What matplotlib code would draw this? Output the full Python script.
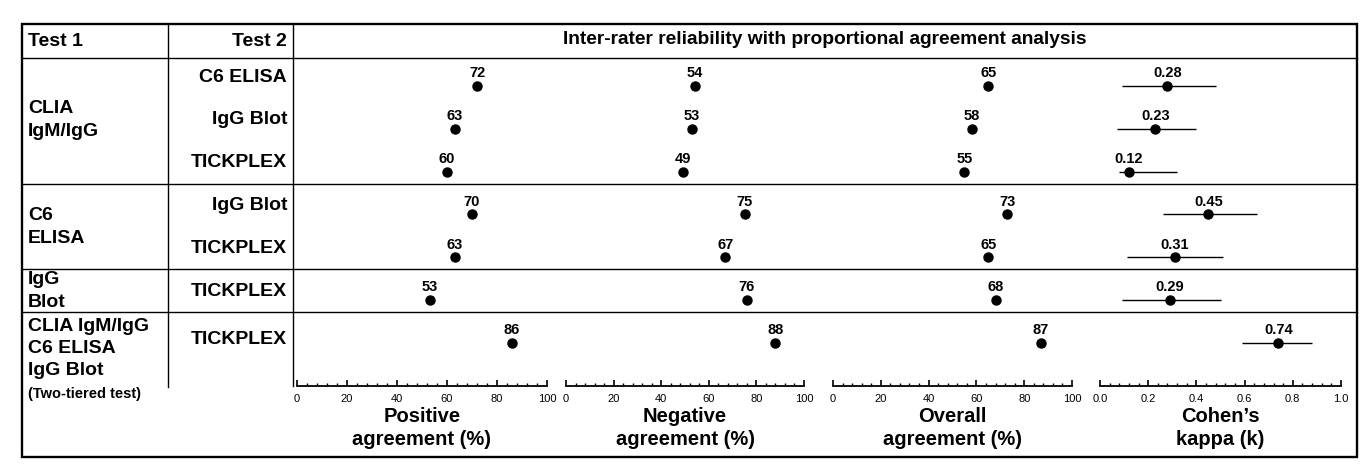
import matplotlib
matplotlib.use('Agg')
import matplotlib.pyplot as plt
from matplotlib.ticker import MultipleLocator, FormatStrFormatter
from matplotlib.patches import Rectangle

plt.rcParams['font.family'] = ['Liberation Sans', 'DejaVu Sans']

# ---- data ----
test1_groups = ['CLIA\nIgM/IgG', 'C6\nELISA', 'IgG\nBlot',
                'CLIA IgM/IgG\nC6 ELISA\nIgG Blot']
group_sizes = [3, 2, 1, 1]
test2_labels = ['C6 ELISA', 'IgG Blot', 'TICKPLEX', 'IgG Blot',
                'TICKPLEX', 'TICKPLEX', 'TICKPLEX']
positive = [72, 63, 60, 70, 63, 53, 86]
negative = [54, 53, 49, 75, 67, 76, 88]
overall = [65, 58, 55, 73, 65, 68, 87]
kappa = [0.28, 0.23, 0.12, 0.45, 0.31, 0.29, 0.74]
kappa_lo = [0.09, 0.07, 0.08, 0.26, 0.11, 0.09, 0.59]
kappa_hi = [0.48, 0.40, 0.32, 0.65, 0.51, 0.50, 0.88]
panel_labels = ['Positive\nagreement (%)', 'Negative\nagreement (%)',
                'Overall\nagreement (%)', 'Cohen\u2019s\nkappa (k)']
title = 'Inter-rater reliability with proportional agreement analysis'

# ---- layout (pixels) ----
W, H = 1368, 467
BOX_L, BOX_R, BOX_T, BOX_B = 22, 1357, 24, 457
COL1, COL2 = 168, 293
HEAD_Y = 58
AX_BOTTOM = 386
ROW0, ROWH = 86, 42.8
row_y = [ROW0 + ROWH * i for i in range(len(test2_labels))]

fig = plt.figure(figsize=(W / 100, H / 100), dpi=100)
bg = fig.add_axes([0, 0, 1, 1])
bg.set_xlim(0, W)
bg.set_ylim(H, 0)
bg.axis('off')

# table frame
bg.add_patch(Rectangle((BOX_L, BOX_T), BOX_R - BOX_L, BOX_B - BOX_T,
                       fill=False, lw=1.7, ec='black'))
bg.plot([BOX_L, BOX_R], [HEAD_Y, HEAD_Y], color='black', lw=1)
bg.plot([COL1, COL1], [BOX_T, AX_BOTTOM + 1], color='black', lw=1)
bg.plot([COL2, COL2], [BOX_T, AX_BOTTOM], color='black', lw=1)

# header
bg.text(BOX_L + 6, 41, 'Test 1', fontsize=14, weight='bold', va='center')
bg.text(COL2 - 6, 41, 'Test 2', fontsize=14, weight='bold', va='center', ha='right')
bg.text((COL2 + BOX_R) / 2, 40, title, fontsize=13.8, weight='bold',
        va='center', ha='center')

# row groups
start = 0
for gi, (lab, n) in enumerate(zip(test1_groups, group_sizes)):
    if start > 0:
        sep = row_y[start] - 0.72 * ROWH
        bg.plot([BOX_L, BOX_R], [sep, sep], color='black', lw=1)
    if gi == len(test1_groups) - 1:
        top = row_y[start] - 0.72 * ROWH + 6
        bg.text(BOX_L + 6, top, lab, fontsize=14, weight='bold', va='top',
                linespacing=1.38)
        bg.text(BOX_L + 6, 394, '(Two-tiered test)', fontsize=10.5,
                weight='bold', va='center')
    else:
        yc = sum(row_y[start:start + n]) / n - 9
        bg.text(BOX_L + 6, yc, lab, fontsize=14, weight='bold', va='center',
                linespacing=1.42)
    start += n

for i, lab in enumerate(test2_labels):
    dy = -3 if i == len(test2_labels) - 1 else -9
    bg.text(COL2 - 6, row_y[i] + dy, lab, fontsize=14, weight='bold',
            va='center', ha='right')

# ---- panels ----
panels = [
    (297, 547, positive, 100, 20, 4, '%d', None),
    (566, 804, negative, 100, 20, 4, '%d', None),
    (833, 1072, overall, 100, 20, 4, '%d', None),
    (1100, 1341, kappa, 1.0, 0.2, 0.04, '%.1f', (kappa_lo, kappa_hi)),
]

for (x0, x1, vals, xmax, major, minor, fmt, ci), plab in zip(panels, panel_labels):
    ax = fig.add_axes([x0 / W, 1 - AX_BOTTOM / H, (x1 - x0) / W,
                       (AX_BOTTOM - HEAD_Y) / H])
    ax.patch.set_visible(False)
    ax.set_xlim(0, xmax)
    ax.set_ylim(AX_BOTTOM, HEAD_Y)
    for s in ['top', 'left', 'right']:
        ax.spines[s].set_visible(False)
    ax.spines['bottom'].set_linewidth(1.3)
    ax.set_yticks([])
    ax.xaxis.set_major_locator(MultipleLocator(major))
    ax.xaxis.set_minor_locator(MultipleLocator(minor))
    ax.xaxis.set_major_formatter(FormatStrFormatter(fmt))
    ax.tick_params(axis='x', which='major', direction='in', length=4.5,
                   width=1.2, labelsize=8, pad=6)
    ax.tick_params(axis='x', which='minor', direction='in', length=2.2, width=1)

    if ci is not None:
        ax.hlines(row_y, ci[0], ci[1], color='black', lw=1)
        labfmt = '%.2f'
    else:
        labfmt = '%d'
    ax.plot(vals, row_y, 'o', color='black', ms=6.5, clip_on=False)
    for v, y in zip(vals, row_y):
        ax.annotate(labfmt % v, (v, y), xytext=(0, 4), textcoords='offset points',
                    ha='center', va='bottom', fontsize=10.5, weight='bold')

    bg.text((x0 + x1) / 2, 428, plab, fontsize=14.5, weight='bold',
            ha='center', va='center', linespacing=1.25)

fig.savefig('out.png', dpi=100)
